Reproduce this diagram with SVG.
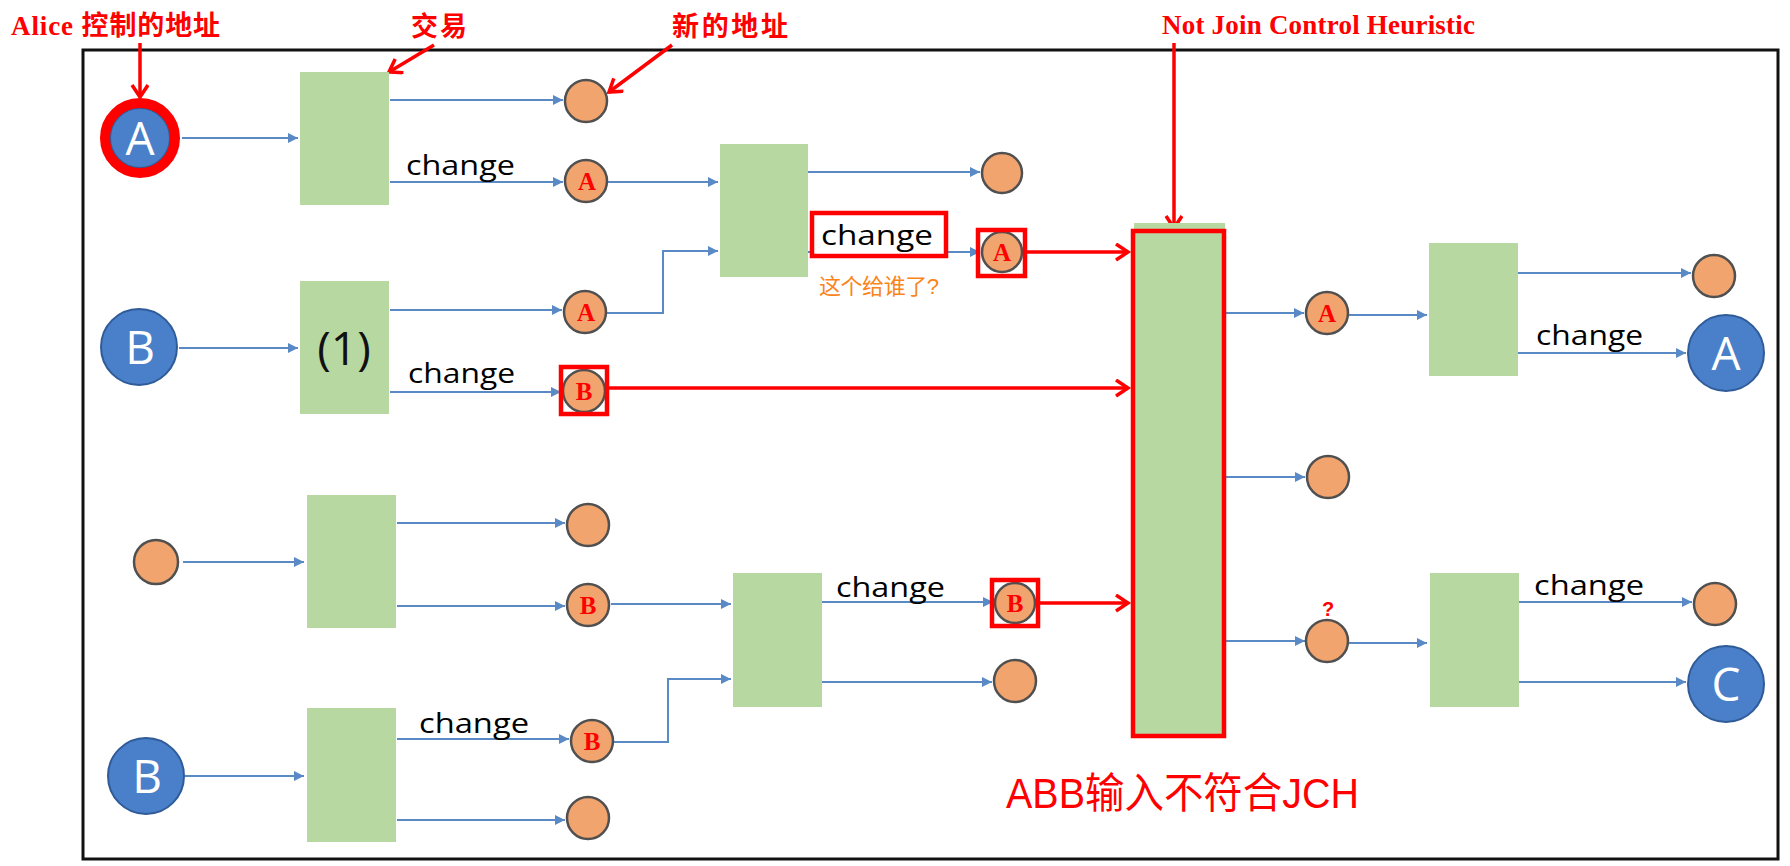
<svg xmlns="http://www.w3.org/2000/svg" width="1790" height="866" viewBox="0 0 1790 866">
<style>
.box{fill:#b8d8a2}
.bc{fill:#4a7fc9;stroke:#2f5c99;stroke-width:2}
.oc{fill:#f2a46f;stroke:#505050;stroke-width:2.5}
.bl{font-family:"Open Sans","Liberation Sans",sans-serif;font-size:46px;fill:#fff;text-anchor:middle}
.ol{font-family:"Liberation Serif",serif;font-weight:bold;font-size:25px;fill:#f00;text-anchor:middle}
.ch{font-family:"Open Sans","Liberation Sans",sans-serif;font-weight:500;font-size:28px;fill:#000}
.conn path{fill:none;stroke:#5a8ac6;stroke-width:2;marker-end:url(#ba)}
.red path{fill:none;stroke:#f00;stroke-width:3.5;marker-end:url(#ra)}
.rb{fill:none;stroke:#f00;stroke-width:4.5}
.ann{font-family:"Liberation Serif","Noto Sans CJK SC",serif;font-weight:bold;font-size:27px;fill:#f00}
</style>
<defs>
<marker id="ba" markerUnits="userSpaceOnUse" markerWidth="12" markerHeight="12" refX="10" refY="5" orient="auto"><path d="M0,0 L10,5 L0,10 z" fill="#5a8ac6"/></marker>
<marker id="ra" markerUnits="userSpaceOnUse" markerWidth="18" markerHeight="20" refX="14" refY="9" orient="auto"><path d="M2,1 L14,9 L2,17" fill="none" stroke="#f00" stroke-width="3.5"/></marker>
</defs>
<rect x="0" y="0" width="1790" height="866" fill="#fff"/>
<rect x="83" y="50" width="1695" height="809" fill="none" stroke="#111" stroke-width="3"/>

<g id="connectors">
<g class="conn">
<path d="M182,138 H298"/>
<path d="M390,100 H563"/>
<path d="M390,182 H563"/>
<path d="M608,182 H718"/>
<path d="M808,172 H980"/>
<path d="M808,252 H980"/>
<path d="M179,348 H298"/>
<path d="M390,310 H562"/>
<path d="M607,313 H663 V251 H718"/>
<path d="M390,392 H561"/>
<path d="M183,562 H304"/>
<path d="M397,523 H565"/>
<path d="M397,606 H565"/>
<path d="M611,604 H731"/>
<path d="M185,776 H304"/>
<path d="M397,739 H569"/>
<path d="M397,820 H565"/>
<path d="M614,742 H668 V679 H731"/>
<path d="M822,602 H993"/>
<path d="M822,682 H992"/>
<path d="M1226,313 H1304"/>
<path d="M1349,315 H1427"/>
<path d="M1518,273 H1691"/>
<path d="M1518,353 H1686"/>
<path d="M1226,477 H1305"/>
<path d="M1226,641 H1305"/>
<path d="M1349,643 H1427"/>
<path d="M1519,602 H1692"/>
<path d="M1519,682 H1686"/>
</g>
<g class="red">
<path d="M608,388 H1128"/>
<path d="M1027,252 H1128"/>
<path d="M1039,603 H1128"/>
<path d="M140,43 V97"/>
<path d="M434,45 L389,72"/>
<path d="M672,45 L609,92"/>
<path d="M1174,43 V228"/>
</g>
</g>

<g id="tx1"><rect class="box" x="300" y="72" width="89" height="133"/></g>
<g id="tx2"><rect class="box" x="720" y="144" width="88" height="133"/></g>
<g id="tx3"><rect class="box" x="300" y="281" width="89" height="133"/><text x="344" y="365" font-family="Open Sans, Liberation Sans, sans-serif" font-size="46" fill="#111" text-anchor="middle">(1)</text></g>
<g id="tx4"><rect class="box" x="307" y="495" width="89" height="133"/></g>
<g id="tx5"><rect class="box" x="307" y="708" width="89" height="134"/></g>
<g id="tx6"><rect class="box" x="733" y="573" width="89" height="134"/></g>
<g id="txbig"><rect class="box" x="1134" y="223" width="91" height="512"/><rect class="rb" x="1133" y="231" width="91" height="505" stroke-width="5"/></g>
<g id="tx7"><rect class="box" x="1429" y="243" width="89" height="133"/></g>
<g id="tx8"><rect class="box" x="1430" y="573" width="89" height="134"/></g>

<g id="addrA0"><circle class="bc" cx="140" cy="138" r="30"/><circle cx="140" cy="138" r="35" fill="none" stroke="#f00" stroke-width="10"/><text class="bl" x="140" y="155">A</text></g>
<g id="addrB0"><circle class="bc" cx="139" cy="347" r="38"/><text class="bl" x="140" y="364">B</text></g>
<g id="addrB1"><circle class="bc" cx="146" cy="776" r="38"/><text class="bl" x="147" y="793">B</text></g>
<g id="addrO0"><circle class="oc" cx="156" cy="562" r="22"/></g>

<g id="o1"><circle class="oc" cx="586" cy="101" r="21"/></g>
<g id="o2"><circle class="oc" cx="586" cy="181" r="21"/><text class="ol" x="587" y="190">A</text></g>
<g id="o3"><circle class="oc" cx="585" cy="312" r="21"/><text class="ol" x="586" y="321">A</text></g>
<g id="o4"><circle class="oc" cx="584" cy="391" r="21"/><text class="ol" x="584" y="400">B</text><rect class="rb" x="561" y="367" width="46" height="47"/></g>
<g id="o5"><circle class="oc" cx="588" cy="525" r="21"/></g>
<g id="o6"><circle class="oc" cx="588" cy="605" r="21"/><text class="ol" x="588" y="614">B</text></g>
<g id="o7"><circle class="oc" cx="592" cy="741" r="21"/><text class="ol" x="592" y="750">B</text></g>
<g id="o8"><circle class="oc" cx="588" cy="818" r="21"/></g>
<g id="o9"><circle class="oc" cx="1002" cy="173" r="20"/></g>
<g id="o10"><circle class="oc" cx="1002" cy="252" r="20"/><text class="ol" x="1002" y="261">A</text><rect class="rb" x="978" y="230" width="47" height="46"/></g>
<g id="o11"><circle class="oc" cx="1015" cy="603" r="20"/><text class="ol" x="1015" y="612">B</text><rect class="rb" x="992" y="580" width="46" height="46"/></g>
<g id="o12"><circle class="oc" cx="1015" cy="681" r="21"/></g>
<g id="o13"><circle class="oc" cx="1327" cy="313" r="21"/><text class="ol" x="1327" y="322">A</text></g>
<g id="o14"><circle class="oc" cx="1328" cy="477" r="21"/></g>
<g id="o15"><circle class="oc" cx="1327" cy="641" r="21"/><text x="1328" y="616" font-family="Liberation Sans, sans-serif" font-weight="bold" font-size="20" fill="#f00" text-anchor="middle">?</text></g>
<g id="o16"><circle class="oc" cx="1714" cy="276" r="21"/></g>
<g id="o17"><circle class="oc" cx="1715" cy="604" r="21"/></g>
<g id="addrA1"><circle class="bc" cx="1726" cy="353" r="38"/><text class="bl" x="1726" y="370">A</text></g>
<g id="addrC"><circle class="bc" cx="1726" cy="684" r="38"/><text class="bl" x="1726" y="701">C</text></g>

<g id="labels">
<text class="ch" x="406" y="175" textLength="109" lengthAdjust="spacingAndGlyphs">change</text>
<text class="ch" x="408" y="383" textLength="107" lengthAdjust="spacingAndGlyphs">change</text>
<rect x="812" y="213" width="134" height="43" fill="#fff" stroke="#f00" stroke-width="4.5"/>
<text class="ch" x="821" y="245" textLength="112" lengthAdjust="spacingAndGlyphs">change</text>
<text class="ch" x="419" y="733" textLength="110" lengthAdjust="spacingAndGlyphs">change</text>
<text class="ch" x="836" y="597" textLength="109" lengthAdjust="spacingAndGlyphs">change</text>
<text class="ch" x="1534" y="595" textLength="110" lengthAdjust="spacingAndGlyphs">change</text>
<text class="ch" x="1536" y="345" textLength="107" lengthAdjust="spacingAndGlyphs">change</text>
<text x="819" y="294" font-family="Liberation Sans, Noto Sans CJK SC, sans-serif" font-size="22" fill="#fa8419" textLength="120">这个给谁了?</text>
</g>

<g id="annotations">
<text class="ann" x="11" y="35" textLength="209">Alice 控制的地址</text>
<text class="ann" x="411" y="36" textLength="56">交易</text>
<text class="ann" x="672" y="36" textLength="116">新的地址</text>
<text class="ann" x="1162" y="34" textLength="313">Not Join Control Heuristic</text>
<text x="1006" y="808" font-family="Liberation Sans, Noto Sans CJK SC, sans-serif" font-size="42" fill="#f00" textLength="353" lengthAdjust="spacingAndGlyphs">ABB输入不符合JCH</text>
</g>
</svg>
